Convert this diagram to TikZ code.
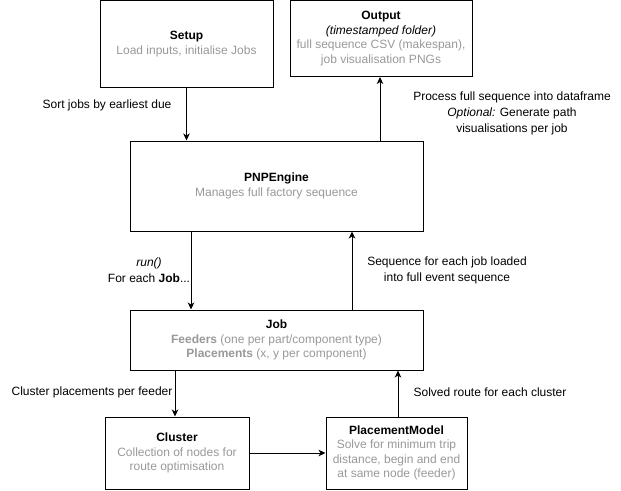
\documentclass[tikz,border=0pt]{standalone}
\usepackage{fontspec}
\setmainfont{Liberation Sans}
\usetikzlibrary{arrows.meta,calc}
\definecolor{desc}{HTML}{999999}
\tikzset{
  box/.style={draw=black, line width=1pt, fill=white, inner sep=0pt, align=center,
    font=\fontsize{12}{14.5}\selectfont},
  lbl/.style={inner sep=0pt, align=center, font=\fontsize{12}{16}\selectfont},
  flow/.style={draw=black, line width=1pt, -{Stealth[length=7pt,width=6.5pt,inset=2pt]}},
}
\begin{document}
\begin{tikzpicture}[x=1pt,y=-1pt]
\useasboundingbox (0,0) rectangle (621,490);

% components
\node[box, minimum width=173pt, minimum height=87pt] (setup) at (186.5,44)
  {\textbf{Setup}\\\textcolor{desc}{Load inputs, initialise Jobs}};
\node[box, minimum width=182pt, minimum height=76pt] (output) at (381,38.5)
  {\textbf{Output}\\\textit{(timestamped folder)}\\\textcolor{desc}{full sequence CSV (makespan),}\\\textcolor{desc}{job visualisation PNGs}};
\node[box, minimum width=293pt, minimum height=90pt] (engine) at (276.5,186)
  {\textbf{PNPEngine}\\\textcolor{desc}{Manages full factory sequence}};
\node[box, minimum width=293pt, minimum height=60pt] (job) at (276.5,340)
  {\textbf{Job}\\\textcolor{desc}{\textbf{Feeders} (one per part/component type)}\\\textcolor{desc}{\textbf{Placements} (x, y per component)}};
\node[box, minimum width=144pt, minimum height=72pt] (cluster) at (177,453)
  {\textbf{Cluster}\\\textcolor{desc}{Collection of nodes for}\\\textcolor{desc}{route optimisation}};
\node[box, minimum width=141pt, minimum height=72pt] (pm) at (396.5,453)
  {\textbf{PlacementModel}\\\textcolor{desc}{Solve for minimum trip}\\\textcolor{desc}{distance, begin and end}\\\textcolor{desc}{at same node (feeder)}};

% connectors
\coordinate (enginein) at (engine.north -| setup.south);
\draw[flow] (setup.south) -- (enginein);
\coordinate (engineout) at ($(engine.north west)+(250.5,0)$);
\draw[flow] (engineout) -- (engineout |- output.south);
\coordinate (jobin) at ($(engine.south west)+(61.5,0)$);
\draw[flow] (jobin) -- (jobin |- job.north);
\coordinate (jobout) at ($(job.north west)+(222.5,0)$);
\draw[flow] (jobout) -- (jobout |- engine.south);
\coordinate (clusterin) at ($(job.south west)+(45.5,0)$);
\draw[flow] (clusterin) -- (clusterin |- cluster.north);
\coordinate (pmout) at ($(pm.north west)+(72.5,0)$);
\draw[flow] (pmout) -- (pmout |- job.south);
\draw[flow] (cluster.east) -- (pm.west);

% connector labels
\node[lbl] (lsort) at (107,105) {Sort jobs by earliest due};
\node[lbl] (lproc) at (512,113) {Process full sequence into dataframe\\\textit{Optional:} Generate path\\visualisations per job};
\node[lbl] (lrun) at (149,270) {\textit{run()}\\For each \textbf{Job}...};
\node[lbl] (lseq) at (447,270) {Sequence for each job loaded\\into full event sequence};
\node[lbl] (lclus) at (92,392) {Cluster placements per feeder};
\node[lbl] (lsolv) at (490,392) {Solved route for each cluster};
\end{tikzpicture}
\end{document}
